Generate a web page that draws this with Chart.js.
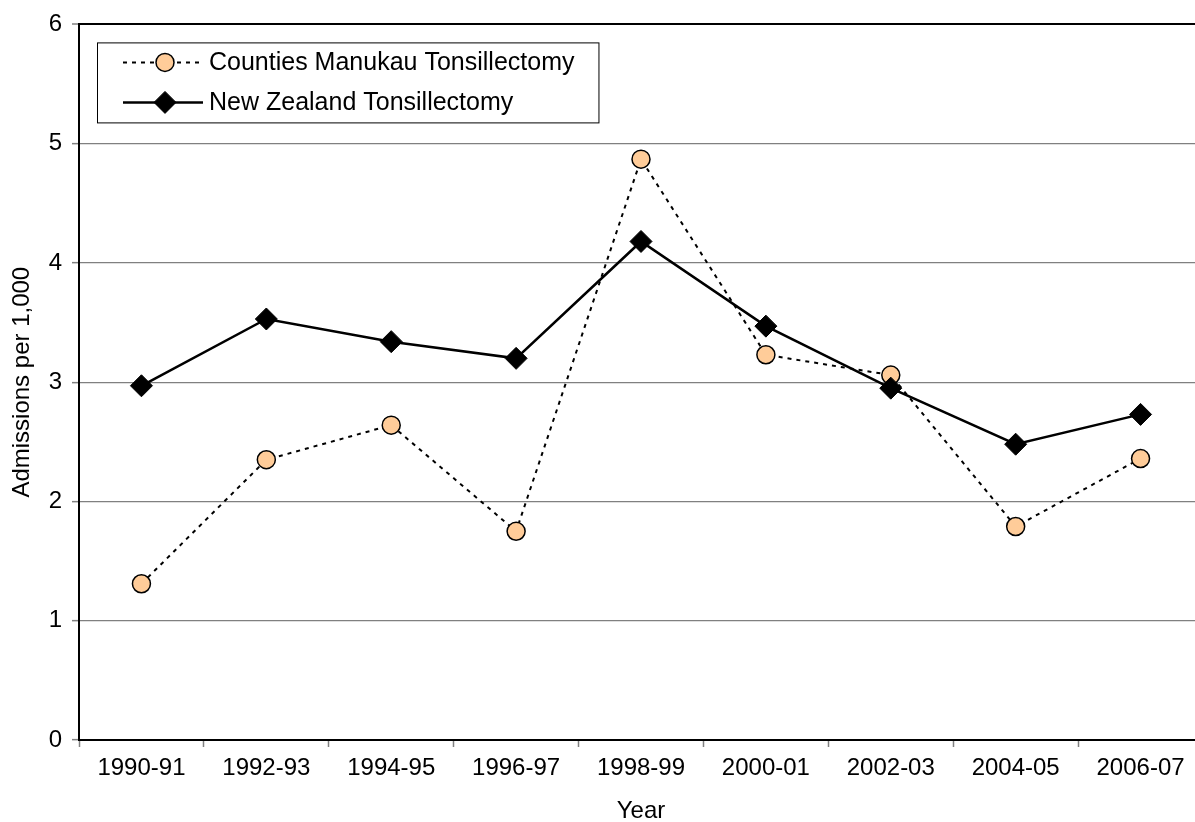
<!DOCTYPE html>
<html>
<head>
<meta charset="utf-8">
<title>Tonsillectomy admissions</title>
<script src="https://cdn.jsdelivr.net/npm/chart.js@4.4.1/dist/chart.umd.min.js"></script>
<style>
    html, body { margin: 0; padding: 0; background: #fff; overflow: hidden; }
    #chart { display: block; }
</style>
</head>
<body>
<canvas id="chart" width="1215" height="822"></canvas>
<script>
// Tonsillectomy admissions per 1,000, by financial year
const years = ['1990-91', '1992-93', '1994-95', '1996-97', '1998-99', '2000-01', '2002-03', '2004-05', '2006-07'];
const countiesManukau = [1.31, 2.35, 2.64, 1.75, 4.87, 3.23, 3.06, 1.79, 2.36];
const newZealand = [2.97, 3.53, 3.34, 3.20, 4.18, 3.47, 2.95, 2.48, 2.73];
const yTicks = [0, 1, 2, 3, 4, 5, 6];

const FONT = 'Liberation Sans, Arial, sans-serif';

// Boxed legend in the top-left corner, line sample with marker in the middle
const boxLegend = {
    id: 'boxLegend',
    afterDraw(chart) {
        const ctx = chart.ctx;
        const area = chart.chartArea;
        const x0 = area.left + 18;
        const y0 = area.top + 18;
        const rowH = 40;
        const sampleW = 80;
        const items = chart.data.datasets;

        ctx.save();
        ctx.font = '25px ' + FONT;
        let textW = 0;
        items.forEach(d => { textW = Math.max(textW, ctx.measureText(d.label).width); });
        const w = 26 + sampleW + 6 + textW + 24;
        const h = rowH * items.length;

        ctx.fillStyle = '#fff';
        ctx.fillRect(x0, y0, w, h);
        ctx.strokeStyle = '#000';
        ctx.lineWidth = 1;
        ctx.strokeRect(x0 + 0.5, y0 + 0.5, w, h);

        items.forEach((d, i) => {
            const cy = y0 + rowH / 2 + i * rowH;
            const lx = x0 + 26;
            const px = lx + sampleW / 2 + 2;

            // line sample
            ctx.beginPath();
            ctx.setLineDash(d.borderDash || []);
            ctx.lineWidth = d.borderWidth;
            ctx.strokeStyle = d.borderColor;
            ctx.moveTo(lx, cy);
            ctx.lineTo(lx + sampleW, cy);
            ctx.stroke();
            ctx.setLineDash([]);

            // marker
            ctx.fillStyle = d.pointBackgroundColor;
            ctx.strokeStyle = d.pointBorderColor;
            ctx.lineWidth = d.pointBorderWidth;
            ctx.beginPath();
            if (d.pointStyle === 'circle') {
                ctx.arc(px, cy, d.pointRadius, 0, Math.PI * 2);
            } else {
                const r = d.pointRadius;
                ctx.moveTo(px, cy - r); ctx.lineTo(px + r, cy);
                ctx.lineTo(px, cy + r); ctx.lineTo(px - r, cy);
                ctx.closePath();
            }
            ctx.fill();
            ctx.stroke();

            ctx.fillStyle = '#000';
            ctx.textAlign = 'left';
            ctx.textBaseline = 'middle';
            ctx.fillText(d.label, lx + sampleW + 6, cy + 1);
        });
        ctx.restore();
    }
};

new Chart(document.getElementById('chart'), {
    type: 'line',
    data: {
        labels: years,
        datasets: [
            {
                label: 'Counties Manukau Tonsillectomy',
                data: countiesManukau,
                order: 1,
                borderColor: '#000',
                borderWidth: 2,
                borderDash: [4, 5],
                pointStyle: 'circle',
                pointRadius: 9,
                pointBorderWidth: 1.5,
                pointBackgroundColor: '#FFCC99',
                pointBorderColor: '#000',
                tension: 0
            },
            {
                label: 'New Zealand Tonsillectomy',
                data: newZealand,
                order: 0,
                borderColor: '#000',
                borderWidth: 2.5,
                pointStyle: 'rectRot',
                pointRadius: 11,
                pointBorderWidth: 1,
                pointBackgroundColor: '#000',
                pointBorderColor: '#000',
                tension: 0
            }
        ]
    },
    options: {
        responsive: false,
        devicePixelRatio: 1,
        animation: false,
        layout: { padding: { top: 24, right: 11, left: 0, bottom: 0 } },
        plugins: {
            legend: { display: false },
            tooltip: { enabled: false }
        },
        scales: {
            x: {
                offset: true,
                grid: {
                    offset: true,
                    drawOnChartArea: false,
                    drawTicks: true,
                    tickLength: 7,
                    tickColor: '#808080',
                    tickWidth: 1.5
                },
                border: { color: '#000', width: 2 },
                ticks: {
                    color: '#000',
                    font: { family: FONT, size: 24 },
                    padding: 7,
                    maxRotation: 0,
                    autoSkip: false
                },
                title: {
                    display: true,
                    text: 'Year',
                    color: '#000',
                    font: { family: FONT, size: 24, lineHeight: 0.9 },
                    padding: { top: 0, bottom: 0 }
                },
                afterFit(scale) { scale.height = 82; }
            },
            y: {
                min: 0,
                max: 6,
                afterBuildTicks(scale) { scale.ticks = yTicks.map(v => ({ value: v })); },
                grid: {
                    color: ctx => (ctx.tick && (ctx.tick.value === 6 || ctx.tick.value === 0)) ? '#000' : '#808080',
                    lineWidth: ctx => (ctx.tick && ctx.tick.value === 6) ? 2 : 1.3,
                    drawTicks: true,
                    tickLength: 7,
                    tickColor: '#808080',
                    tickWidth: 1.5
                },
                border: { color: '#000', width: 2 },
                ticks: {
                    color: '#000',
                    font: { family: FONT, size: 24 },
                    padding: 10
                },
                title: {
                    display: true,
                    text: 'Admissions per 1,000',
                    color: '#000',
                    font: { family: FONT, size: 24 },
                    padding: { top: 8, bottom: 0 }
                },
                afterFit(scale) { scale.width = 79; }
            }
        }
    },
    plugins: [boxLegend]
});
</script>
</body>
</html>
